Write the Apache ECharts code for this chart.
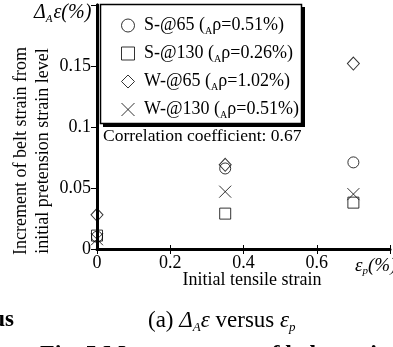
<!DOCTYPE html>
<html><head><meta charset="utf-8">
<script src="https://cdn.jsdelivr.net/npm/echarts@6/dist/echarts.min.js"></script>
<style>html,body{margin:0;padding:0;background:#fff}#c{width:393px;height:347px}</style>
</head><body><div id="c"></div>
<script>
// Data
const xTicks = [0, 0.2, 0.4, 0.6, 0.8];
const yTicks = [0, 0.05, 0.1, 0.15, 0.2];
const strainX = [0, 0.35, 0.7];
const s65 = [0.010, 0.066, 0.071];
const s130 = [0.011, 0.029, 0.038];
const w65 = [0.028, 0.069, 0.152];
const w130 = [0.008, 0.047, 0.045];
const seriesNames = ['S-@65', 'S-@130', 'W-@65', 'W-@130'];
const rhoVals = ['0.51%', '0.26%', '1.02%', '0.51%'];
const correlation = '0.67';

const serif = 'Liberation Serif';
const chart = echarts.init(document.getElementById('c'));
const pts = arr => strainX.map((x, i) => [x, arr[i]]);
const hollow = { color: 'rgba(0,0,0,0)', borderColor: '#000', borderWidth: 1 };
const rhoMap = {};
seriesNames.forEach((n, i) => rhoMap[n] = rhoVals[i]);

const option = {
  animation: false,
  grid: { left: 97, top: 5, width: 300, height: 244 },
  xAxis: [{
    type: 'value', min: xTicks[0], max: xTicks[xTicks.length - 1], interval: 0.2, position: 'bottom',
    axisLine: { lineStyle: { color: '#000', width: 3 } },
    axisTick: { inside: true, length: 4, lineStyle: { color: '#000', width: 1 } },
    splitLine: { show: false },
    axisLabel: { color: '#000', fontFamily: serif, fontSize: 18, margin: 5,
      formatter: v => (Math.abs(v - 0.8) < 1e-9 ? '' : (v === 0 ? '0' : String(+v.toFixed(2)))) }
  }, {
    type: 'value', min: xTicks[0], max: xTicks[xTicks.length - 1], interval: 0.2, position: 'top',
    axisLine: { lineStyle: { color: '#000', width: 2 } },
    axisTick: { inside: true, length: 5, lineStyle: { color: '#000', width: 1 } },
    splitLine: { show: false }, axisLabel: { show: false }
  }],
  yAxis: [{
    type: 'value', min: yTicks[0], max: yTicks[yTicks.length - 1], interval: 0.05, position: 'left',
    axisLine: { lineStyle: { color: '#000', width: 3 } },
    axisTick: { inside: false, length: 5, lineStyle: { color: '#000', width: 1 } },
    splitLine: { show: false },
    axisLabel: { color: '#000', fontFamily: serif, fontSize: 18, margin: 6,
      formatter: v => (Math.abs(v - 0.2) < 1e-9 ? '' : (v === 0 ? '0' : String(+v.toFixed(2)))) }
  }, {
    type: 'value', min: yTicks[0], max: yTicks[yTicks.length - 1], interval: 0.05, position: 'right',
    axisLine: { lineStyle: { color: '#000', width: 3 } },
    axisTick: { inside: true, length: 6, lineStyle: { color: '#000', width: 1 } },
    splitLine: { show: false }, axisLabel: { show: false }
  }],
  legend: {
    orient: 'vertical', left: 121, top: 15, z: 20,
    itemWidth: 13, itemHeight: 13, itemGap: 7, padding: 0,
    itemStyle: { color: 'rgba(0,0,0,0)', borderColor: '#000', borderWidth: 1 },
    data: seriesNames,
    formatter: n => '{n| ' + n + ' (}{s|A}{n|ρ=' + rhoMap[n] + ')}',
    textStyle: { color: '#000', fontFamily: serif, fontSize: 18,
      rich: { n: { fontFamily: serif, fontSize: 18, color: '#000', lineHeight: 19 },
              s: { fontFamily: serif, fontSize: 10, color: '#000', lineHeight: 19, padding: [11, 0, 0, 0] } } }
  },
  series: [
    { name: seriesNames[0], type: 'scatter', symbol: 'circle', symbolSize: 11, data: pts(s65), itemStyle: hollow, z: 5 },
    { name: seriesNames[1], type: 'scatter', symbol: 'rect', symbolSize: 11, data: pts(s130), itemStyle: hollow, z: 5 },
    { name: seriesNames[2], type: 'scatter', symbol: 'diamond', symbolSize: [12, 13], data: pts(w65), itemStyle: hollow, z: 5 },
    { name: seriesNames[3], type: 'scatter', symbol: 'path://M0,0L10,10M0,10L10,0', symbolSize: 12, data: pts(w130), itemStyle: hollow, z: 5 }
  ],
  graphic: [
    { type: 'rect', z: 10, shape: { x: 103, y: 7, width: 202, height: 120 }, style: { fill: '#000' } },
    { type: 'rect', z: 11, shape: { x: 100.5, y: 4.5, width: 201, height: 119 }, style: { fill: '#fff', stroke: '#000', lineWidth: 1.5 } },
    { type: 'text', z: 12, left: 103, top: 127, style: { text: 'Correlation coefficient: ' + correlation, font: '17.5px "Liberation Serif"', fill: '#000' } },
    { type: 'text', z: 12, left: 34, top: 1, style: { text: '{d|Δ}{s|A}{e|ε(%)}', fill: '#000',
      rich: { d: { font: 'italic 20px "Liberation Serif"', lineHeight: 22 }, s: { font: 'italic 11px "Liberation Serif"', lineHeight: 22, padding: [13, 1, 0, 0] }, e: { font: 'italic 20px "Liberation Serif"', lineHeight: 22 } } } },
    { type: 'text', z: 12, left: 355, top: 254, style: { text: '{e|ε}{s|p}{e|(%)}', fill: '#000',
      rich: { e: { font: 'italic 19px "Liberation Serif"', lineHeight: 20 }, s: { font: 'italic 11px "Liberation Serif"', lineHeight: 20, padding: [12, 0, 0, 0] } } } },
    { type: 'text', z: 12, x: 252, y: 280, style: { text: 'Initial tensile strain', font: '18px "Liberation Serif"', fill: '#000', align: 'center', verticalAlign: 'middle' } },
    { type: 'text', z: 12, x: 21, y: 151, rotation: Math.PI / 2, style: { text: 'Increment of belt strain from', font: '18px "Liberation Serif"', fill: '#000', align: 'center', verticalAlign: 'middle' } },
    { type: 'text', z: 12, x: 43, y: 151, rotation: Math.PI / 2, style: { text: 'initial pretension strain level', font: '18px "Liberation Serif"', fill: '#000', align: 'center', verticalAlign: 'middle' } },
    { type: 'text', z: 12, left: 148, top: 307, style: { text: '(a) {d|Δ}{s|A}{e|ε} versus {e|ε}{s|p}', font: '23px "Liberation Serif"', fill: '#000',
      rich: { d: { font: 'italic 23px "Liberation Serif"', lineHeight: 26 }, e: { font: 'italic 23px "Liberation Serif"', lineHeight: 26 }, s: { font: 'italic 13px "Liberation Serif"', lineHeight: 26, padding: [14, 0, 0, 0] } } } },
    { type: 'text', z: 12, x: 14, y: 320, style: { text: 'us', font: 'bold 23px "Liberation Serif"', fill: '#000', align: 'right', verticalAlign: 'middle' } },
    { type: 'text', z: 12, left: 40, top: 343, style: { text: 'Fig. 5 Measurements of belt strain', font: 'bold 24px "Liberation Serif"', fill: '#000' } }
  ]
};
chart.setOption(option);
</script></body></html>
